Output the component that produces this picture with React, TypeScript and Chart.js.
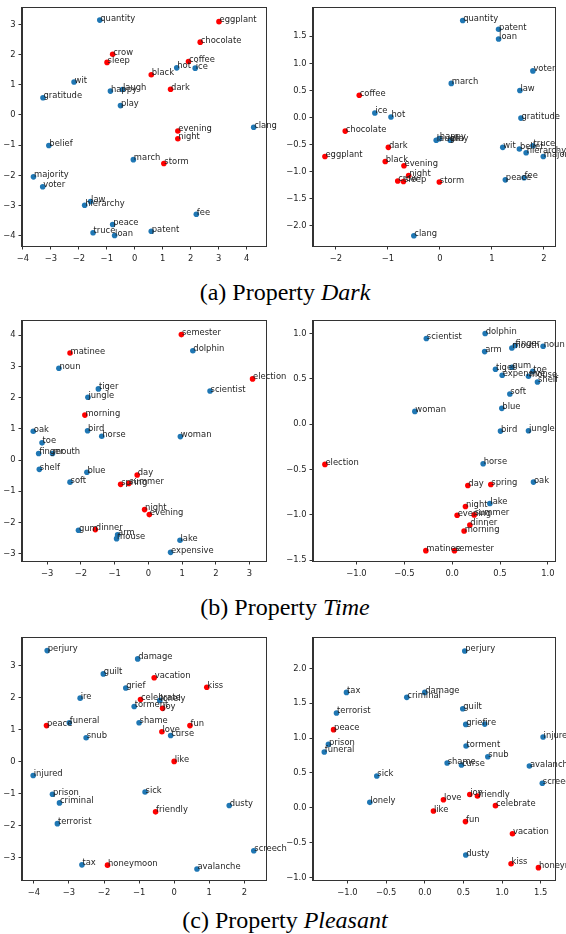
import React, { useEffect, useRef } from 'react';
import { Chart, registerables } from 'chart.js';

Chart.register(...registerables);

// ---------- (a) Property Dark ----------
const DARK_WORDS = ['quantity', 'eggplant', 'chocolate', 'crow', 'sleep', 'coffee', 'hot', 'ice', 'black', 'wit', 'happy', 'laugh', 'dark', 'gratitude', 'play', 'clang', 'evening', 'night', 'belief', 'march', 'storm', 'majority', 'voter', 'law', 'hierarchy', 'fee', 'peace', 'truce', 'loan', 'patent'];
const DARK_POSITIVE = [0, 1, 1, 1, 1, 1, 0, 0, 1, 0, 0, 0, 1, 0, 0, 0, 1, 1, 0, 0, 1, 0, 0, 0, 0, 0, 0, 0, 0, 0];
const DARK_LEFT_X = [-1.25, 3.01, 2.34, -0.79, -0.99, 1.92, 1.50, 2.16, 0.59, -2.17, -0.87, -0.44, 1.28, -3.28, -0.51, 4.25, 1.54, 1.54, -3.07, -0.05, 1.04, -3.62, -3.29, -1.58, -1.79, 2.20, -0.79, -1.49, -0.72, 0.59];
const DARK_LEFT_Y = [3.14, 3.09, 2.41, 2.01, 1.74, 1.77, 1.56, 1.55, 1.33, 1.09, 0.79, 0.84, 0.85, 0.57, 0.31, -0.41, -0.53, -0.79, -1.01, -1.48, -1.61, -2.05, -2.38, -2.87, -2.99, -3.29, -3.63, -3.90, -3.99, -3.85];
const DARK_RIGHT_X = [0.44, -2.21, -1.82, -0.81, -0.70, -1.55, -0.94, -1.25, -1.05, 1.21, -0.01, -0.07, -0.99, 1.56, 0.20, -0.50, -0.69, -0.60, 1.53, 0.22, -0.01, 1.99, 1.79, 1.54, 1.66, 1.62, 1.26, 1.79, 1.13, 1.13];
const DARK_RIGHT_Y = [1.79, -0.72, -0.25, -1.17, -1.18, 0.41, 0.01, 0.085, -0.81, -0.55, -0.39, -0.42, -0.55, -0.01, -0.42, -2.18, -0.89, -1.07, -0.58, 0.63, -1.19, -0.72, 0.86, 0.50, -0.65, -1.11, -1.15, -0.52, 1.45, 1.63];
const DARK_LEFT_XTICKS = [-4, -3, -2, -1, 0, 1, 2, 3, 4];
const DARK_LEFT_YTICKS = [-4, -3, -2, -1, 0, 1, 2, 3];
const DARK_RIGHT_XTICKS = [-2, -1, 0, 1, 2];
const DARK_RIGHT_YTICKS = [-2, -1.5, -1, -0.5, 0, 0.5, 1, 1.5];

// ---------- (b) Property Time ----------
const TIME_WORDS = ['semester', 'dolphin', 'matinee', 'noun', 'election', 'tiger', 'scientist', 'jungle', 'morning', 'oak', 'bird', 'horse', 'woman', 'toe', 'finger', 'mouth', 'shelf', 'blue', 'day', 'soft', 'spring', 'summer', 'night', 'evening', 'gum', 'dinner', 'arm', 'mouse', 'lake', 'expensive'];
const TIME_POSITIVE = [1, 0, 1, 0, 1, 0, 0, 0, 1, 0, 0, 0, 0, 0, 0, 0, 0, 0, 1, 0, 1, 1, 1, 1, 0, 1, 0, 0, 0, 0];
const TIME_LEFT_X = [0.98, 1.32, -2.32, -2.65, 3.09, -1.48, 1.83, -1.79, -1.88, -3.41, -1.80, -1.38, 0.95, -3.15, -3.25, -2.84, -3.23, -1.82, -0.33, -2.32, -0.82, -0.58, -0.11, 0.03, -2.07, -1.57, -0.91, -0.94, 0.94, 0.66];
const TIME_LEFT_Y = [4.02, 3.50, 3.43, 2.94, 2.60, 2.28, 2.21, 2.01, 1.44, 0.92, 0.94, 0.76, 0.75, 0.55, 0.21, 0.21, -0.30, -0.39, -0.48, -0.71, -0.78, -0.75, -1.59, -1.75, -2.25, -2.23, -2.40, -2.52, -2.57, -2.96];
const TIME_RIGHT_X = [0.024, 0.345, -0.275, 0.951, -1.33, 0.453, -0.27, 0.798, 0.125, 0.850, 0.505, 0.324, -0.39, 0.843, 0.658, 0.624, 0.892, 0.519, 0.164, 0.603, 0.404, 0.23, 0.139, 0.052, 0.624, 0.185, 0.34, 0.798, 0.394, 0.523];
const TIME_RIGHT_Y = [-1.397, 1.0, -1.397, 0.86, -0.445, 0.605, 0.945, -0.073, -1.18, -0.64, -0.077, -0.438, 0.14, 0.583, 0.867, 0.84, 0.465, 0.174, -0.678, 0.333, -0.667, -1.002, -0.91, -1.006, 0.628, -1.113, 0.80, 0.528, -0.877, 0.54];
const TIME_LEFT_XTICKS = [-3, -2, -1, 0, 1, 2, 3];
const TIME_LEFT_YTICKS = [-3, -2, -1, 0, 1, 2, 3, 4];
const TIME_RIGHT_XTICKS = [-1, -0.5, 0, 0.5, 1];
const TIME_RIGHT_YTICKS = [-1.5, -1, -0.5, 0, 0.5, 1];

// ---------- (c) Property Pleasant ----------
const PLEASANT_WORDS = ['perjury', 'damage', 'guilt', 'vacation', 'kiss', 'grief', 'ire', 'celebrate', 'lonely', 'torment', 'joy', 'peace', 'funeral', 'shame', 'fun', 'love', 'curse', 'snub', 'like', 'injured', 'sick', 'prison', 'criminal', 'dusty', 'friendly', 'terrorist', 'screech', 'tax', 'honeymoon', 'avalanche'];
const PLEASANT_POSITIVE = [0, 0, 0, 1, 1, 0, 0, 1, 0, 0, 1, 1, 0, 0, 1, 1, 0, 0, 1, 0, 0, 0, 0, 0, 1, 0, 0, 0, 1, 0];
const PLEASANT_LEFT_X = [-3.62, -1.04, -2.02, -0.57, 0.93, -1.38, -2.68, -0.96, -0.41, -1.14, -0.33, -3.64, -2.99, -1.0, 0.45, -0.35, -0.10, -2.51, 0.0, -4.02, -0.83, -3.47, -3.27, 1.57, -0.53, -3.33, 2.27, -2.63, -1.90, 0.65];
const PLEASANT_LEFT_Y = [3.48, 3.22, 2.75, 2.63, 2.33, 2.31, 1.99, 1.95, 1.92, 1.73, 1.67, 1.13, 1.22, 1.22, 1.13, 0.94, 0.82, 0.75, 0.01, -0.43, -0.95, -1.02, -1.29, -1.37, -1.57, -1.94, -2.79, -3.23, -3.24, -3.36];
const PLEASANT_RIGHT_X = [0.517, 0.0, 0.491, 1.134, 1.116, 0.530, 0.776, 0.914, -0.711, 0.534, 0.582, -1.18, -1.30, 0.289, 0.526, 0.241, 0.474, 0.815, 0.112, 1.53, -0.621, -1.246, -0.233, 0.530, 0.681, -1.142, 1.52, -1.013, 1.47, 1.353];
const PLEASANT_RIGHT_Y = [2.25, 1.655, 1.42, -0.373, -0.804, 1.196, 1.20, 0.029, 0.077, 0.885, 0.19, 1.12, 0.80, 0.641, -0.20, 0.115, 0.612, 0.732, -0.048, 1.014, 0.455, 0.91, 1.584, -0.68, 0.167, 1.36, 0.35, 1.655, -0.861, 0.598];
const PLEASANT_LEFT_XTICKS = [-4, -3, -2, -1, 0, 1, 2];
const PLEASANT_LEFT_YTICKS = [-3, -2, -1, 0, 1, 2, 3];
const PLEASANT_RIGHT_XTICKS = [-1, -0.5, 0, 0.5, 1, 1.5];
const PLEASANT_RIGHT_YTICKS = [-1, -0.5, 0, 0.5, 1, 1.5, 2];

const CAPTION_LETTERS = ['(a)', '(b)', '(c)'];
const PROPERTY_NAMES = ['Dark', 'Time', 'Pleasant'];

const BLUE = '#1f77b4';
const RED = '#ff0000';
const AXIS_COLOR = '#333333';
const TEXT_COLOR = '#1e1e1e';
const FONT_FAMILY = '"DejaVu Sans", sans-serif';
const FONT_SIZE = 8.4;

type Rect = { L: number; T: number; W: number; H: number };
type Area = { l: number; r: number; t: number; b: number };

type PanelProps = {
  words: string[];
  positive: number[];
  xs: number[];
  ys: number[];
  xRange: [number, number];
  yRange: [number, number];
  xTicks: number[];
  yTicks: number[];
  xDec: number;
  yDec: number;
  box: Rect;
  area: Area;
};

const X_AXIS_H = 22;

function fmt(v: number, dec: number): string {
  const s = Math.abs(v).toFixed(dec);
  return v < -1e-9 ? '\u2212' + s : s;
}

function ScatterPanel(p: PanelProps) {
  const ref = useRef<HTMLCanvasElement | null>(null);
  useEffect(() => {
    const canvas = ref.current;
    if (!canvas) return;
    const { box, area } = p;
    const yAxisW = area.l - box.L;
    const padRight = box.L + box.W - area.r;
    const padTop = area.t - box.T;
    const padBottom = box.T + box.H - area.b - X_AXIS_H;

    const labelPlugin = {
      id: 'wordLabels',
      afterDatasetsDraw(chart: any) {
        const ctx = chart.ctx;
        const ca = chart.chartArea;
        ctx.save();
        ctx.strokeStyle = AXIS_COLOR;
        ctx.lineWidth = 1;
        ctx.strokeRect(Math.round(ca.left) - 0.5, Math.round(ca.top) - 0.5, Math.round(ca.right - ca.left) + 1, Math.round(ca.bottom - ca.top) + 1);
        ctx.font = `${FONT_SIZE}px ${FONT_FAMILY}`;
        ctx.fillStyle = TEXT_COLOR;
        ctx.textAlign = 'left';
        ctx.textBaseline = 'alphabetic';
        const meta = chart.getDatasetMeta(0);
        meta.data.forEach((el: any, i: number) => {
          ctx.fillText(p.words[i], el.x + 0.5, el.y + 0.5);
        });
        ctx.restore();
      },
    };

    const tickFont = { family: FONT_FAMILY, size: FONT_SIZE };

    const chart = new Chart(canvas, {
      type: 'scatter',
      data: {
        datasets: [
          {
            data: p.xs.map((x, i) => ({ x, y: p.ys[i] })),
            pointBackgroundColor: p.positive.map((f) => (f ? RED : BLUE)),
            pointBorderWidth: 0,
            pointRadius: 2.8,
            pointHoverRadius: 2.8,
          },
        ],
      },
      options: {
        responsive: false,
        maintainAspectRatio: false,
        animation: false,
        events: [],
        devicePixelRatio: 1,
        layout: {
          autoPadding: false,
          padding: { left: 0, right: padRight, top: padTop, bottom: padBottom },
        },
        plugins: { legend: { display: false }, tooltip: { enabled: false } },
        scales: {
          x: {
            type: 'linear',
            bounds: 'data',
            min: p.xRange[0],
            max: p.xRange[1],
            afterBuildTicks: (s: any) => {
              s.ticks = p.xTicks.map((v) => ({ value: v }));
            },
            afterFit: (s: any) => {
              s.height = X_AXIS_H;
            },
            ticks: {
              autoSkip: false,
              maxRotation: 0,
              padding: 4,
              color: TEXT_COLOR,
              font: tickFont,
              callback: (v: any) => fmt(Number(v), p.xDec),
            },
            grid: { drawOnChartArea: false, drawTicks: true, tickLength: 3.5, color: AXIS_COLOR, lineWidth: 1 },
            border: { display: true, color: AXIS_COLOR, width: 1 },
          },
          y: {
            type: 'linear',
            bounds: 'data',
            min: p.yRange[0],
            max: p.yRange[1],
            afterBuildTicks: (s: any) => {
              s.ticks = p.yTicks.map((v) => ({ value: v }));
            },
            afterFit: (s: any) => {
              s.width = yAxisW;
            },
            ticks: {
              autoSkip: false,
              padding: 3,
              color: TEXT_COLOR,
              font: tickFont,
              callback: (v: any) => fmt(Number(v), p.yDec),
            },
            grid: { drawOnChartArea: false, drawTicks: true, tickLength: 3.5, color: AXIS_COLOR, lineWidth: 1 },
            border: { display: true, color: AXIS_COLOR, width: 1 },
          },
        },
      },
      plugins: [labelPlugin],
    } as any);
    return () => chart.destroy();
  }, []);

  const { box } = p;
  return (
    <canvas
      ref={ref}
      width={box.W}
      height={box.H}
      style={{ position: 'absolute', left: box.L, top: box.T, width: box.W, height: box.H }}
    />
  );
}

const LEFT_BOX = { L: 0, W: 300 };
const RIGHT_BOX = { L: 283, W: 283 };
const LEFT_COL = { l: 22, r: 266 };
const RIGHT_COL = { l: 313, r: 555 };
const ROWS = [
  { T: 0, H: 276, t: 5, b: 246, capTop: 280 },
  { T: 306, H: 280, t: 321, b: 561, capTop: 595 },
  { T: 622, H: 280, t: 638, b: 880, capTop: 908 },
];

export default function App() {
  const panels: PanelProps[] = [
    {
      words: DARK_WORDS, positive: DARK_POSITIVE, xs: DARK_LEFT_X, ys: DARK_LEFT_Y,
      xRange: [-4.03, 4.69], yRange: [-4.34, 3.54], xTicks: DARK_LEFT_XTICKS, yTicks: DARK_LEFT_YTICKS, xDec: 0, yDec: 0,
      box: { ...LEFT_BOX, T: ROWS[0].T, H: ROWS[0].H }, area: { ...LEFT_COL, t: ROWS[0].t, b: ROWS[0].b },
    },
    {
      words: DARK_WORDS, positive: DARK_POSITIVE, xs: DARK_RIGHT_X, ys: DARK_RIGHT_Y,
      xRange: [-2.44, 2.215], yRange: [-2.37, 2.02], xTicks: DARK_RIGHT_XTICKS, yTicks: DARK_RIGHT_YTICKS, xDec: 0, yDec: 1,
      box: { ...RIGHT_BOX, T: ROWS[0].T, H: ROWS[0].H }, area: { ...RIGHT_COL, t: ROWS[0].t, b: ROWS[0].b },
    },
    {
      words: TIME_WORDS, positive: TIME_POSITIVE, xs: TIME_LEFT_X, ys: TIME_LEFT_Y,
      xRange: [-3.744, 3.488], yRange: [-3.237, 4.456], xTicks: TIME_LEFT_XTICKS, yTicks: TIME_LEFT_YTICKS, xDec: 0, yDec: 0,
      box: { ...LEFT_BOX, T: ROWS[1].T, H: ROWS[1].H }, area: { ...LEFT_COL, t: ROWS[1].t, b: ROWS[1].b },
    },
    {
      words: TIME_WORDS, positive: TIME_POSITIVE, xs: TIME_RIGHT_X, ys: TIME_RIGHT_Y,
      xRange: [-1.455, 1.075], yRange: [-1.511, 1.138], xTicks: TIME_RIGHT_XTICKS, yTicks: TIME_RIGHT_YTICKS, xDec: 1, yDec: 1,
      box: { ...RIGHT_BOX, T: ROWS[1].T, H: ROWS[1].H }, area: { ...RIGHT_COL, t: ROWS[1].t, b: ROWS[1].b },
    },
    {
      words: PLEASANT_WORDS, positive: PLEASANT_POSITIVE, xs: PLEASANT_LEFT_X, ys: PLEASANT_LEFT_Y,
      xRange: [-4.339, 2.618], yRange: [-3.705, 3.874], xTicks: PLEASANT_LEFT_XTICKS, yTicks: PLEASANT_LEFT_YTICKS, xDec: 0, yDec: 0,
      box: { ...LEFT_BOX, T: ROWS[2].T, H: ROWS[2].H }, area: { ...LEFT_COL, t: ROWS[2].t, b: ROWS[2].b },
    },
    {
      words: PLEASANT_WORDS, positive: PLEASANT_POSITIVE, xs: PLEASANT_RIGHT_X, ys: PLEASANT_RIGHT_Y,
      xRange: [-1.446, 1.684], yRange: [-1.038, 2.436], xTicks: PLEASANT_RIGHT_XTICKS, yTicks: PLEASANT_RIGHT_YTICKS, xDec: 1, yDec: 1,
      box: { ...RIGHT_BOX, T: ROWS[2].T, H: ROWS[2].H }, area: { ...RIGHT_COL, t: ROWS[2].t, b: ROWS[2].b },
    },
  ];

  return (
    <div style={{ position: 'absolute', left: 0, top: 0, width: 566, height: 934, background: '#fff', overflow: 'hidden' }}>
      {panels.map((pp, i) => (
        <ScatterPanel key={i} {...pp} />
      ))}
      {ROWS.map((row, i) => (
        <div
          key={'cap' + i}
          style={{
            position: 'absolute',
            left: 2,
            top: row.capTop,
            width: 566,
            textAlign: 'center',
            fontFamily: '"Liberation Serif", "Times New Roman", serif',
            fontSize: 24,
            lineHeight: '24px',
            color: '#000',
            whiteSpace: 'nowrap',
          }}
        >
          {CAPTION_LETTERS[i]} Property <i>{PROPERTY_NAMES[i]}</i>
        </div>
      ))}
    </div>
  );
}
